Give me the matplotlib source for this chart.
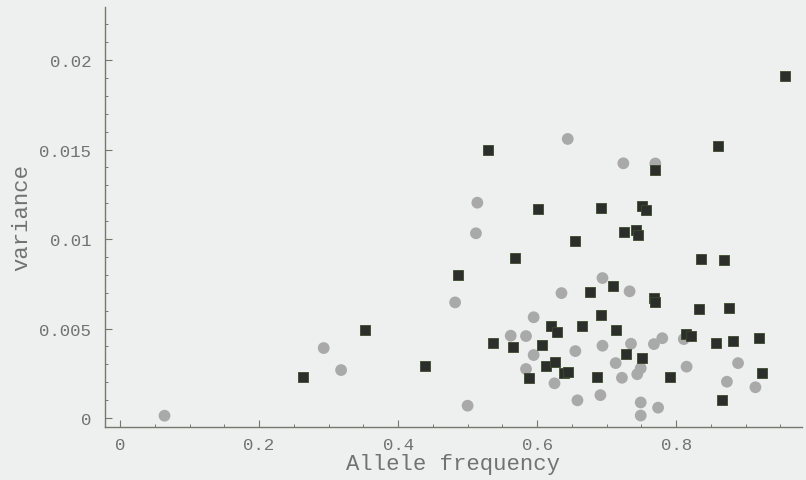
import matplotlib
matplotlib.use("Agg")
import matplotlib.pyplot as plt
from matplotlib.ticker import MultipleLocator, FixedLocator, FixedFormatter

# Dark squares
sq_x = [0.263, 0.353, 0.439, 0.486, 0.529, 0.536, 0.566, 0.568, 0.588, 0.601,
        0.607, 0.613, 0.620, 0.629, 0.626, 0.638, 0.644, 0.654, 0.665, 0.676,
        0.686, 0.692, 0.692, 0.709, 0.714, 0.725, 0.728, 0.742, 0.745, 0.751,
        0.756, 0.751, 0.769, 0.768, 0.769, 0.791, 0.814, 0.822, 0.833, 0.835,
        0.858, 0.860, 0.866, 0.869, 0.876, 0.882, 0.919, 0.924, 0.957]
sq_y = [0.00231, 0.00493, 0.00292, 0.00799, 0.01500, 0.00419, 0.00398, 0.00892, 0.00221, 0.01165,
        0.00408, 0.00292, 0.00512, 0.00482, 0.00315, 0.00250, 0.00260, 0.00987, 0.00512, 0.00702,
        0.00229, 0.01175, 0.00577, 0.00736, 0.00493, 0.01039, 0.00356, 0.01050, 0.01021, 0.01184,
        0.01164, 0.00335, 0.01385, 0.00669, 0.00646, 0.00229, 0.00472, 0.00460, 0.00608, 0.00891,
        0.00419, 0.01521, 0.00102, 0.00882, 0.00616, 0.00430, 0.00449, 0.00249, 0.01912]

# Gray circles
ci_x = [0.064, 0.293, 0.318, 0.482, 0.500, 0.512, 0.514, 0.562, 0.584, 0.584,
        0.595, 0.595, 0.625, 0.635, 0.644, 0.655, 0.658, 0.691, 0.694, 0.694,
        0.713, 0.722, 0.724, 0.733, 0.735, 0.744, 0.749, 0.749, 0.749, 0.768,
        0.770, 0.774, 0.780, 0.811, 0.815, 0.873, 0.889, 0.914]
ci_y = [0.00013, 0.00391, 0.00268, 0.00646, 0.00069, 0.01032, 0.01203, 0.00460, 0.00458, 0.00274,
        0.00563, 0.00352, 0.00194, 0.00698, 0.01559, 0.00374, 0.00099, 0.00128, 0.00782, 0.00404,
        0.00307, 0.00225, 0.01423, 0.00708, 0.00415, 0.00245, 0.00278, 0.00087, 0.00014, 0.00413,
        0.01422, 0.00058, 0.00446, 0.00441, 0.00287, 0.00203, 0.00307, 0.00172]

x_ticks = [0, 0.2, 0.4, 0.6, 0.8]
x_tick_labels = ["0", "0.2", "0.4", "0.6", "0.8"]
y_ticks = [0, 0.005, 0.01, 0.015, 0.02]
y_tick_labels = ["0", "0.005", "0.01", "0.015", "0.02"]

bg = "#eef0ef"
axcol = "#727a6e"
txtcol = "#727272"

fig = plt.figure(figsize=(8.06, 4.81), dpi=100, facecolor=bg)
ax = fig.add_axes([105/806, 1-428/481, (802-105)/806, (428-8)/481])
ax.set_facecolor(bg)

ax.scatter(ci_x, ci_y, s=72, marker="o", color="#a9a9a9", edgecolors="none", zorder=2)
ax.scatter(sq_x, sq_y, s=50, marker="s", color="#2b2e2b", edgecolors="#3a4a2a",
           linewidths=0.6, zorder=3)

ax.set_xlim(-0.0216, 0.981)
ax.set_ylim(-0.0005, 0.02296)

for s in ["top", "right"]:
    ax.spines[s].set_visible(False)
for s in ["left", "bottom"]:
    ax.spines[s].set_color(axcol)
    ax.spines[s].set_linewidth(1.0)

ax.xaxis.set_major_locator(FixedLocator(x_ticks))
ax.xaxis.set_major_formatter(FixedFormatter(x_tick_labels))
ax.yaxis.set_major_locator(FixedLocator(y_ticks))
ax.yaxis.set_major_formatter(FixedFormatter(y_tick_labels))
ax.xaxis.set_minor_locator(MultipleLocator(0.05))
ax.yaxis.set_minor_locator(MultipleLocator(0.001))

font = "Liberation Mono"
ax.tick_params(which="major", direction="in", length=5, width=0.8, color=axcol,
               labelcolor=txtcol, labelsize=12.5)
ax.tick_params(which="minor", direction="in", length=2.5, width=0.7, color=axcol)
ax.tick_params(axis="x", which="major", pad=7)
ax.tick_params(axis="y", which="major", pad=10)
for lbl in ax.get_xticklabels() + ax.get_yticklabels():
    lbl.set_fontfamily(font)

ax.set_xlabel("Allele frequency", fontsize=16, family=font, color=txtcol, labelpad=1)
ax.set_ylabel("variance", fontsize=16, family=font, color=txtcol, labelpad=5)

fig.savefig("out.png", dpi=100, facecolor=bg)
